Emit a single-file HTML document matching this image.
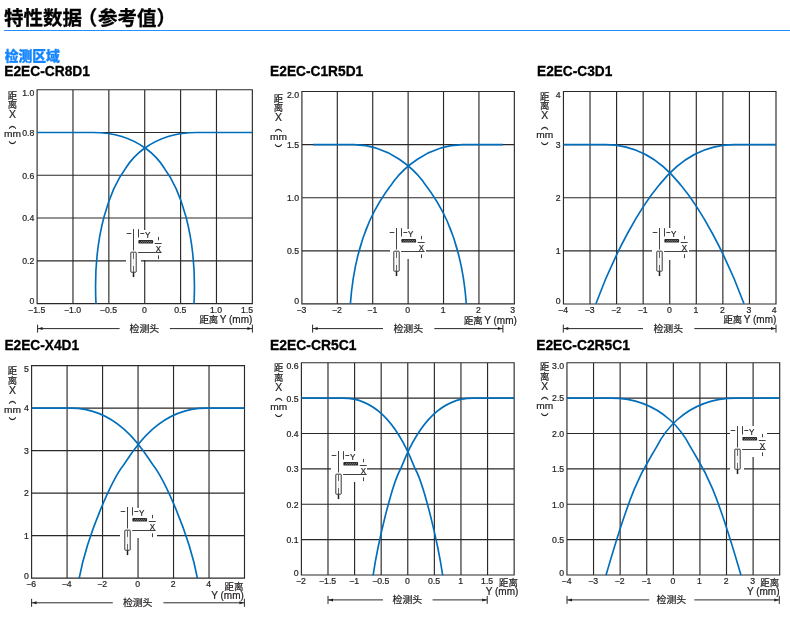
<!DOCTYPE html>
<html lang="zh-CN"><head><meta charset="utf-8"><title>特性数据（参考值）</title>
<style>html,body{margin:0;padding:0;background:#fff}svg{display:block;will-change:transform}text{font-family:"Liberation Sans","Noto Sans CJK SC",sans-serif;stroke:#231f20;stroke-width:.22px}</style></head><body>
<svg width="790" height="617" viewBox="0 0 790 617" fill="#231f20">
<rect width="790" height="617" fill="#fff"/>
<text x="4" y="25" font-size="19.5" font-weight="bold" fill="#000" style="stroke:#000;stroke-width:.3px">特性数据<tspan dx="-4.2">（</tspan><tspan dx="0.7">参考值）</tspan></text>
<rect x="4" y="30" width="786" height="1" fill="#1e90ff"/>
<text x="4.7" y="61.4" font-size="13.8" font-weight="900" fill="#1585ff" style="stroke:#1585ff;stroke-width:.3px">检测区域</text>
<!-- chart 1 -->
<text x="4.2" y="75.8" font-size="14" font-weight="bold" fill="#000" textLength="85.8" lengthAdjust="spacingAndGlyphs" style="stroke:#000;stroke-width:.3px">E2EC-CR8D1</text>
<path d="M37.1 89.15V304.15M72.97 89.15V304.15M108.85 89.15V304.15M144.72 89.15V230M144.72 260V304.15M180.6 89.15V304.15M216.47 89.15V304.15M252.35 89.15V304.15M36.55 89.7H252.9M36.55 132.48H252.9M36.55 175.26H252.9M36.55 218.04H252.9M36.55 260.82H126M141 260.82H252.9M36.55 303.6H252.9" stroke="#2c2829" stroke-width="1.15" fill="none"/>
<path d="M37.1 132.48H93.36C144.41 132.48 163.39 166.97 164.3 168.18C178.25 186.68 197.63 232.21 194 303.68M252.35 132.48H196.64C145.59 132.48 126.61 166.97 125.7 168.18C111.75 186.68 92.37 232.21 96 303.68" stroke="#006ebb" stroke-width="1.65" fill="none" stroke-linejoin="round"/>
<text x="34.3" y="304.1" font-size="8.7" text-anchor="end">0</text>
<text x="34.3" y="264.22" font-size="8.7" text-anchor="end">0.2</text>
<text x="34.3" y="221.44" font-size="8.7" text-anchor="end">0.4</text>
<text x="34.3" y="178.66" font-size="8.7" text-anchor="end">0.6</text>
<text x="34.3" y="135.88" font-size="8.7" text-anchor="end">0.8</text>
<text x="34.3" y="96.1" font-size="8.7" text-anchor="end">1.0</text>
<text x="36.7" y="312.5" font-size="8.7" text-anchor="middle">−1.5</text>
<text x="72.57" y="312.5" font-size="8.7" text-anchor="middle">−1.0</text>
<text x="108.45" y="312.5" font-size="8.7" text-anchor="middle">−0.5</text>
<text x="144.32" y="312.5" font-size="8.7" text-anchor="middle">0</text>
<text x="180.2" y="312.5" font-size="8.7" text-anchor="middle">0.5</text>
<text x="216.07" y="312.5" font-size="8.7" text-anchor="middle">1.0</text>
<text x="253.05" y="312.5" font-size="8.7" text-anchor="end">1.5</text>
<text x="12.5" y="98.8" font-size="9.4" text-anchor="middle">距</text>
<text x="12.5" y="108.4" font-size="9.4" text-anchor="middle">离</text>
<text transform="translate(12.5 118.3) scale(1.02 1)" font-size="10.2" text-anchor="middle">X</text>
<text transform="translate(12.5 127.7) scale(0.9 1.5)" font-size="8.2" text-anchor="middle">︵</text>
<text transform="translate(12.5 137.2) scale(1.05 1)" font-size="9.7" text-anchor="middle">mm</text>
<text transform="translate(12.5 152.4) scale(0.9 1.5)" font-size="8.2" text-anchor="middle">︶</text>
<text x="199.4" y="323.2" font-size="9.4" textLength="18.9" lengthAdjust="spacingAndGlyphs">距离</text>
<text x="252.3" y="323.2" font-size="10" text-anchor="end">Y (mm)</text>
<path d="M37.6 324.6V332.6M252.4 324.6V332.6M37.6 328.6H119.6M169.9 328.6H252.4" stroke="#2c2829" stroke-width="1" fill="none"/>
<path d="M38 328.6l4.6-1.5v3zM252 328.6l-4.6-1.5v3z" fill="#231f20"/>
<text x="144.35" y="332.1" font-size="9.6" text-anchor="middle" textLength="29.6" lengthAdjust="spacingAndGlyphs">检测头</text>
<g transform="translate(133.5,252.5)" stroke="#231f20" stroke-width="0.85" fill="none">
<path d="M-6.8-19H-2.2M0-23.5V-2M5-23.3V-15M6.8-19H10.8"/>
<path d="M25-15.6V-12.2M25 2.8V6.6M21.2-9H28.2M4.6 0H28.2"/>
<rect x="4.9" y="-12.6" width="14.7" height="3.7" rx="0.9" fill="#262626" stroke="none"/>
<path d="M6.9-9.8l1.5-1.9M8.9-9.8l1.5-1.9M10.9-9.8l1.5-1.9M12.9-9.8l1.5-1.9M14.9-9.8l1.5-1.9M16.9-9.8l1.5-1.9" stroke="#cfcfcf" stroke-width="0.55"/>
<rect x="-2.7" y="-0.3" width="5.4" height="20" rx="0.5" fill="#fff" stroke-width="0.9"/>
<path d="M0 0.4V19.4" stroke-width="0.9" stroke="#555" stroke-dasharray="6 7 6"/>
<path d="M0 6.8V13" stroke-width="0.6" stroke="#bbb" stroke-dasharray="1 0.8"/>
<path d="M0 19.8V24.6" stroke-width="1.5"/>
</g>
<text transform="translate(145 238.2) scale(0.95 1)" font-size="8.5">Y</text>
<text transform="translate(155.7 251.8) scale(0.88 1)" font-size="9">X</text>
<!-- chart 2 -->
<text x="270.1" y="75.8" font-size="14" font-weight="bold" fill="#000" textLength="93.1" lengthAdjust="spacingAndGlyphs" style="stroke:#000;stroke-width:.3px">E2EC-C1R5D1</text>
<path d="M301.9 90.95V304.45M337.31 90.95V304.45M372.72 90.95V304.45M408.12 90.95V229M408.12 259V304.45M443.53 90.95V304.45M478.94 90.95V304.45M514.35 90.95V304.45M301.35 91.5H514.9M301.35 144.6H514.9M301.35 197.7H514.9M301.35 250.8H390M426 250.8H514.9M301.35 303.9H514.9" stroke="#2c2829" stroke-width="1.15" fill="none"/>
<path d="M313 144.6H354.08C390.23 144.6 415.66 171.62 422.35 180.6C430.44 191.46 460.61 225.39 466.3 303.7M503 144.6H462.62C426.47 144.6 401.04 171.62 394.35 180.6C386.26 191.46 356.09 225.39 350.4 303.7" stroke="#006ebb" stroke-width="1.65" fill="none" stroke-linejoin="round"/>
<text x="299.1" y="304.4" font-size="8.7" text-anchor="end">0</text>
<text x="299.1" y="254.2" font-size="8.7" text-anchor="end">0.5</text>
<text x="299.1" y="201.1" font-size="8.7" text-anchor="end">1.0</text>
<text x="299.1" y="148" font-size="8.7" text-anchor="end">1.5</text>
<text x="299.1" y="97.7" font-size="8.7" text-anchor="end">2.0</text>
<text x="301.5" y="312.8" font-size="8.7" text-anchor="middle">−3</text>
<text x="336.91" y="312.8" font-size="8.7" text-anchor="middle">−2</text>
<text x="372.32" y="312.8" font-size="8.7" text-anchor="middle">−1</text>
<text x="407.73" y="312.8" font-size="8.7" text-anchor="middle">0</text>
<text x="443.13" y="312.8" font-size="8.7" text-anchor="middle">1</text>
<text x="478.54" y="312.8" font-size="8.7" text-anchor="middle">2</text>
<text x="515.05" y="312.8" font-size="8.7" text-anchor="end">3</text>
<text x="278.4" y="101.6" font-size="9.4" text-anchor="middle">距</text>
<text x="278.4" y="111.2" font-size="9.4" text-anchor="middle">离</text>
<text transform="translate(278.4 121.1) scale(1.02 1)" font-size="10.2" text-anchor="middle">X</text>
<text transform="translate(278.4 130.5) scale(0.9 1.5)" font-size="8.2" text-anchor="middle">︵</text>
<text transform="translate(278.4 140) scale(1.05 1)" font-size="9.7" text-anchor="middle">mm</text>
<text transform="translate(278.4 155.2) scale(0.9 1.5)" font-size="8.2" text-anchor="middle">︶</text>
<text x="463.9" y="323.5" font-size="9.4" textLength="18.9" lengthAdjust="spacingAndGlyphs">距离</text>
<text x="516.8" y="323.5" font-size="10" text-anchor="end">Y (mm)</text>
<path d="M312.6 324.6V332.6M502.9 324.6V332.6M312.6 328.6H383M434.3 328.6H502.9" stroke="#2c2829" stroke-width="1" fill="none"/>
<path d="M313 328.6l4.6-1.5v3zM502.5 328.6l-4.6-1.5v3z" fill="#231f20"/>
<text x="408.25" y="332.1" font-size="9.6" text-anchor="middle" textLength="29.6" lengthAdjust="spacingAndGlyphs">检测头</text>
<g transform="translate(396.5,251.5)" stroke="#231f20" stroke-width="0.85" fill="none">
<path d="M-6.8-19H-2.2M0-23.5V-2M5-23.3V-15M6.8-19H10.8"/>
<path d="M25-15.6V-12.2M25 2.8V6.6M21.2-9H28.2M4.6 0H28.2"/>
<rect x="4.9" y="-12.6" width="14.7" height="3.7" rx="0.9" fill="#262626" stroke="none"/>
<path d="M6.9-9.8l1.5-1.9M8.9-9.8l1.5-1.9M10.9-9.8l1.5-1.9M12.9-9.8l1.5-1.9M14.9-9.8l1.5-1.9M16.9-9.8l1.5-1.9" stroke="#cfcfcf" stroke-width="0.55"/>
<rect x="-2.7" y="-0.3" width="5.4" height="20" rx="0.5" fill="#fff" stroke-width="0.9"/>
<path d="M0 0.4V19.4" stroke-width="0.9" stroke="#555" stroke-dasharray="6 7 6"/>
<path d="M0 6.8V13" stroke-width="0.6" stroke="#bbb" stroke-dasharray="1 0.8"/>
<path d="M0 19.8V24.6" stroke-width="1.5"/>
</g>
<text transform="translate(408 237.2) scale(0.95 1)" font-size="8.5">Y</text>
<text transform="translate(418.7 250.8) scale(0.88 1)" font-size="9">X</text>
<!-- chart 3 -->
<text x="537" y="75.8" font-size="14" font-weight="bold" fill="#000" textLength="75.3" lengthAdjust="spacingAndGlyphs" style="stroke:#000;stroke-width:.3px">E2EC-C3D1</text>
<path d="M563.45 90.95V304.5M590.02 90.95V304.5M616.59 90.95V304.5M643.16 90.95V304.5M669.73 90.95V228M669.73 260V304.5M696.29 90.95V304.5M722.86 90.95V304.5M749.43 90.95V304.5M776 90.95V304.5M562.9 91.5H776.55M562.9 144.61H776.55M562.9 197.72H776.55M562.9 250.84H652M689 250.84H776.55M562.9 303.95H776.55" stroke="#2c2829" stroke-width="1.15" fill="none"/>
<path d="M563.45 144.61H605.3C651.18 144.61 676.09 179.51 680.95 185.31C699.78 207.74 725.02 251.89 744 303.81M776 144.61H734.6C688.72 144.61 663.81 179.51 658.95 185.31C640.12 207.74 614.88 251.89 595.9 303.81" stroke="#006ebb" stroke-width="1.65" fill="none" stroke-linejoin="round"/>
<text x="560.65" y="304.45" font-size="8.7" text-anchor="end">0</text>
<text x="560.65" y="254.24" font-size="8.7" text-anchor="end">1</text>
<text x="560.65" y="201.12" font-size="8.7" text-anchor="end">2</text>
<text x="560.65" y="148.01" font-size="8.7" text-anchor="end">3</text>
<text x="560.65" y="97.5" font-size="8.7" text-anchor="end">4</text>
<text x="563.05" y="312.85" font-size="8.7" text-anchor="middle">−4</text>
<text x="589.62" y="312.85" font-size="8.7" text-anchor="middle">−3</text>
<text x="616.19" y="312.85" font-size="8.7" text-anchor="middle">−2</text>
<text x="642.76" y="312.85" font-size="8.7" text-anchor="middle">−1</text>
<text x="669.33" y="312.85" font-size="8.7" text-anchor="middle">0</text>
<text x="695.89" y="312.85" font-size="8.7" text-anchor="middle">1</text>
<text x="722.46" y="312.85" font-size="8.7" text-anchor="middle">2</text>
<text x="749.03" y="312.85" font-size="8.7" text-anchor="middle">3</text>
<text x="776.7" y="312.85" font-size="8.7" text-anchor="end">4</text>
<text x="544.8" y="99.6" font-size="9.4" text-anchor="middle">距</text>
<text x="544.8" y="109.2" font-size="9.4" text-anchor="middle">离</text>
<text transform="translate(544.8 119.1) scale(1.02 1)" font-size="10.2" text-anchor="middle">X</text>
<text transform="translate(544.8 128.5) scale(0.9 1.5)" font-size="8.2" text-anchor="middle">︵</text>
<text transform="translate(544.8 138) scale(1.05 1)" font-size="9.7" text-anchor="middle">mm</text>
<text transform="translate(544.8 153.2) scale(0.9 1.5)" font-size="8.2" text-anchor="middle">︶</text>
<text x="723.4" y="323.2" font-size="9.4" textLength="18.9" lengthAdjust="spacingAndGlyphs">距离</text>
<text x="776.3" y="323.2" font-size="10" text-anchor="end">Y (mm)</text>
<path d="M563.3 324.6V332.6M776 324.6V332.6M563.3 328.6H643M694.3 328.6H776" stroke="#2c2829" stroke-width="1" fill="none"/>
<path d="M563.7 328.6l4.6-1.5v3zM775.6 328.6l-4.6-1.5v3z" fill="#231f20"/>
<text x="668.25" y="332.1" font-size="9.6" text-anchor="middle" textLength="29.6" lengthAdjust="spacingAndGlyphs">检测头</text>
<g transform="translate(659.5,251.5)" stroke="#231f20" stroke-width="0.85" fill="none">
<path d="M-6.8-19H-2.2M0-23.5V-2M5-23.3V-15M6.8-19H10.8"/>
<path d="M25-15.6V-12.2M25 2.8V6.6M21.2-9H28.2M4.6 0H28.2"/>
<rect x="4.9" y="-12.6" width="14.7" height="3.7" rx="0.9" fill="#262626" stroke="none"/>
<path d="M6.9-9.8l1.5-1.9M8.9-9.8l1.5-1.9M10.9-9.8l1.5-1.9M12.9-9.8l1.5-1.9M14.9-9.8l1.5-1.9M16.9-9.8l1.5-1.9" stroke="#cfcfcf" stroke-width="0.55"/>
<rect x="-2.7" y="-0.3" width="5.4" height="20" rx="0.5" fill="#fff" stroke-width="0.9"/>
<path d="M0 0.4V19.4" stroke-width="0.9" stroke="#555" stroke-dasharray="6 7 6"/>
<path d="M0 6.8V13" stroke-width="0.6" stroke="#bbb" stroke-dasharray="1 0.8"/>
<path d="M0 19.8V24.6" stroke-width="1.5"/>
</g>
<text transform="translate(671 237.2) scale(0.95 1)" font-size="8.5">Y</text>
<text transform="translate(681.7 250.8) scale(0.88 1)" font-size="9">X</text>
<!-- chart 4 -->
<text x="4.4" y="349.6" font-size="14" font-weight="bold" fill="#000" textLength="74.7" lengthAdjust="spacingAndGlyphs" style="stroke:#000;stroke-width:.3px">E2EC-X4D1</text>
<path d="M31.6 365.05V578.6M67.08 365.05V578.6M102.57 365.05V578.6M138.05 365.05V508M138.05 538V578.6M173.53 365.05V578.6M209.02 365.05V578.6M244.5 365.05V578.6M31.05 365.6H245.05M31.05 408.09H245.05M31.05 450.58H245.05M31.05 493.07H245.05M31.05 535.56H120M157 535.56H245.05M31.05 578.05H245.05" stroke="#2c2829" stroke-width="1.15" fill="none"/>
<path d="M31.6 408.09H70.74C122.48 408.09 147.59 458.26 153.2 465.29C163.75 478.51 188.7 532.15 197.4 578.09M244.5 408.09H205.86C154.12 408.09 129.01 458.26 123.4 465.29C112.85 478.51 87.9 532.15 79.2 578.09" stroke="#006ebb" stroke-width="1.65" fill="none" stroke-linejoin="round"/>
<text x="28.8" y="578.55" font-size="8.7" text-anchor="end">0</text>
<text x="28.8" y="538.96" font-size="8.7" text-anchor="end">1</text>
<text x="28.8" y="496.47" font-size="8.7" text-anchor="end">2</text>
<text x="28.8" y="453.98" font-size="8.7" text-anchor="end">3</text>
<text x="28.8" y="411.49" font-size="8.7" text-anchor="end">4</text>
<text x="28.8" y="372" font-size="8.7" text-anchor="end">5</text>
<text x="31.2" y="586.95" font-size="8.7" text-anchor="middle">−6</text>
<text x="66.68" y="586.95" font-size="8.7" text-anchor="middle">−4</text>
<text x="102.17" y="586.95" font-size="8.7" text-anchor="middle">−2</text>
<text x="137.65" y="586.95" font-size="8.7" text-anchor="middle">0</text>
<text x="173.13" y="586.95" font-size="8.7" text-anchor="middle">2</text>
<text x="208.62" y="586.95" font-size="8.7" text-anchor="middle">4</text>
<text x="12.4" y="374.2" font-size="9.4" text-anchor="middle">距</text>
<text x="12.4" y="383.8" font-size="9.4" text-anchor="middle">离</text>
<text transform="translate(12.4 393.7) scale(1.02 1)" font-size="10.2" text-anchor="middle">X</text>
<text transform="translate(12.4 403.1) scale(0.9 1.5)" font-size="8.2" text-anchor="middle">︵</text>
<text transform="translate(12.4 412.6) scale(1.05 1)" font-size="9.7" text-anchor="middle">mm</text>
<text transform="translate(12.4 427.8) scale(0.9 1.5)" font-size="8.2" text-anchor="middle">︶</text>
<text x="224.5" y="589.7" font-size="9.4" textLength="18.9" lengthAdjust="spacingAndGlyphs">距离</text>
<text x="243.8" y="598.6" font-size="10" text-anchor="end">Y (mm)</text>
<path d="M31.6 598.8V606.8M244.4 598.8V606.8M31.6 602.8H112.8M163.4 602.8H244.4" stroke="#2c2829" stroke-width="1" fill="none"/>
<path d="M32 602.8l4.6-1.5v3zM244 602.8l-4.6-1.5v3z" fill="#231f20"/>
<text x="137.7" y="606.3" font-size="9.6" text-anchor="middle" textLength="29.6" lengthAdjust="spacingAndGlyphs">检测头</text>
<g transform="translate(127.5,530.5)" stroke="#231f20" stroke-width="0.85" fill="none">
<path d="M-6.8-19H-2.2M0-23.5V-2M5-23.3V-15M6.8-19H10.8"/>
<path d="M25-15.6V-12.2M25 2.8V6.6M21.2-9H28.2M4.6 0H28.2"/>
<rect x="4.9" y="-12.6" width="14.7" height="3.7" rx="0.9" fill="#262626" stroke="none"/>
<path d="M6.9-9.8l1.5-1.9M8.9-9.8l1.5-1.9M10.9-9.8l1.5-1.9M12.9-9.8l1.5-1.9M14.9-9.8l1.5-1.9M16.9-9.8l1.5-1.9" stroke="#cfcfcf" stroke-width="0.55"/>
<rect x="-2.7" y="-0.3" width="5.4" height="20" rx="0.5" fill="#fff" stroke-width="0.9"/>
<path d="M0 0.4V19.4" stroke-width="0.9" stroke="#555" stroke-dasharray="6 7 6"/>
<path d="M0 6.8V13" stroke-width="0.6" stroke="#bbb" stroke-dasharray="1 0.8"/>
<path d="M0 19.8V24.6" stroke-width="1.5"/>
</g>
<text transform="translate(139 516.2) scale(0.95 1)" font-size="8.5">Y</text>
<text transform="translate(149.7 529.8) scale(0.88 1)" font-size="9">X</text>
<!-- chart 5 -->
<text x="270" y="349.6" font-size="14" font-weight="bold" fill="#000" textLength="86.4" lengthAdjust="spacingAndGlyphs" style="stroke:#000;stroke-width:.3px">E2EC-CR5C1</text>
<path d="M301.4 362.2V575.55M327.99 362.2V575.55M354.59 362.2V451M354.59 482V575.55M381.18 362.2V575.55M407.77 362.2V575.55M434.37 362.2V575.55M460.96 362.2V575.55M487.56 362.2V575.55M514.15 362.2V575.55M300.85 362.75H514.7M300.85 398.12H514.7M300.85 433.5H514.7M300.85 468.88H331M367 468.88H514.7M300.85 504.25H514.7M300.85 539.62H514.7M300.85 575H514.7" stroke="#2c2829" stroke-width="1.15" fill="none"/>
<path d="M301.4 398.12H343.2C392.75 398.12 412.41 464.07 415.1 468.73C423.85 483.81 437.82 542.35 442.7 575.38M514.15 398.12H472.6C423.05 398.12 403.39 464.07 400.7 468.73C391.95 483.81 377.98 542.35 373.1 575.38" stroke="#006ebb" stroke-width="1.65" fill="none" stroke-linejoin="round"/>
<text x="298.6" y="575.5" font-size="8.7" text-anchor="end">0</text>
<text x="298.6" y="543.02" font-size="8.7" text-anchor="end">0.1</text>
<text x="298.6" y="507.65" font-size="8.7" text-anchor="end">0.2</text>
<text x="298.6" y="472.27" font-size="8.7" text-anchor="end">0.3</text>
<text x="298.6" y="436.9" font-size="8.7" text-anchor="end">0.4</text>
<text x="298.6" y="401.52" font-size="8.7" text-anchor="end">0.5</text>
<text x="298.6" y="368.75" font-size="8.7" text-anchor="end">0.6</text>
<text x="301" y="583.9" font-size="8.7" text-anchor="middle">−2</text>
<text x="327.59" y="583.9" font-size="8.7" text-anchor="middle">−1.5</text>
<text x="354.19" y="583.9" font-size="8.7" text-anchor="middle">−1</text>
<text x="380.78" y="583.9" font-size="8.7" text-anchor="middle">−0.5</text>
<text x="407.38" y="583.9" font-size="8.7" text-anchor="middle">0</text>
<text x="433.97" y="583.9" font-size="8.7" text-anchor="middle">0.5</text>
<text x="460.56" y="583.9" font-size="8.7" text-anchor="middle">1</text>
<text x="487.16" y="583.9" font-size="8.7" text-anchor="middle">1.5</text>
<text x="278.7" y="371.25" font-size="9.4" text-anchor="middle">距</text>
<text x="278.7" y="380.85" font-size="9.4" text-anchor="middle">离</text>
<text transform="translate(278.7 390.75) scale(1.02 1)" font-size="10.2" text-anchor="middle">X</text>
<text transform="translate(278.7 400.15) scale(0.9 1.5)" font-size="8.2" text-anchor="middle">︵</text>
<text transform="translate(278.7 409.65) scale(1.05 1)" font-size="9.7" text-anchor="middle">mm</text>
<text transform="translate(278.7 424.85) scale(0.9 1.5)" font-size="8.2" text-anchor="middle">︶</text>
<text x="499" y="585.8" font-size="9.4" textLength="18.9" lengthAdjust="spacingAndGlyphs">距离</text>
<text x="518.3" y="594.7" font-size="10" text-anchor="end">Y (mm)</text>
<path d="M328 595.9V603.9M487.2 595.9V603.9M328 599.9H383M432.6 599.9H487.2" stroke="#2c2829" stroke-width="1" fill="none"/>
<path d="M328.4 599.9l4.6-1.5v3zM486.8 599.9l-4.6-1.5v3z" fill="#231f20"/>
<text x="407.4" y="603.4" font-size="9.6" text-anchor="middle" textLength="29.6" lengthAdjust="spacingAndGlyphs">检测头</text>
<g transform="translate(338.5,474.5)" stroke="#231f20" stroke-width="0.85" fill="none">
<path d="M-6.8-19H-2.2M0-23.5V-2M5-23.3V-15M6.8-19H10.8"/>
<path d="M25-15.6V-12.2M25 2.8V6.6M21.2-9H28.2M4.6 0H28.2"/>
<rect x="4.9" y="-12.6" width="14.7" height="3.7" rx="0.9" fill="#262626" stroke="none"/>
<path d="M6.9-9.8l1.5-1.9M8.9-9.8l1.5-1.9M10.9-9.8l1.5-1.9M12.9-9.8l1.5-1.9M14.9-9.8l1.5-1.9M16.9-9.8l1.5-1.9" stroke="#cfcfcf" stroke-width="0.55"/>
<rect x="-2.7" y="-0.3" width="5.4" height="20" rx="0.5" fill="#fff" stroke-width="0.9"/>
<path d="M0 0.4V19.4" stroke-width="0.9" stroke="#555" stroke-dasharray="6 7 6"/>
<path d="M0 6.8V13" stroke-width="0.6" stroke="#bbb" stroke-dasharray="1 0.8"/>
<path d="M0 19.8V24.6" stroke-width="1.5"/>
</g>
<text transform="translate(350 460.2) scale(0.95 1)" font-size="8.5">Y</text>
<text transform="translate(360.7 473.8) scale(0.88 1)" font-size="9">X</text>
<!-- chart 6 -->
<text x="536.2" y="349.6" font-size="14" font-weight="bold" fill="#000" textLength="93.8" lengthAdjust="spacingAndGlyphs" style="stroke:#000;stroke-width:.3px">E2EC-C2R5C1</text>
<path d="M566.95 362.15V575.55M593.54 362.15V575.55M620.14 362.15V575.55M646.73 362.15V575.55M673.33 362.15V575.55M699.92 362.15V575.55M726.51 362.15V575.55M753.11 362.15V426M753.11 457V575.55M779.7 362.15V575.55M566.4 362.7H780.25M566.4 398.08H780.25M566.4 433.47H730M767 433.47H780.25M566.4 468.85H730M744 468.85H780.25M566.4 504.23H780.25M566.4 539.62H780.25M566.4 575H780.25" stroke="#2c2829" stroke-width="1.15" fill="none"/>
<path d="M566.95 398.08H610.91C668.88 398.08 689.1 444.66 690.7 447.43C702.57 468.03 712.41 476.04 741 575.33M779.7 398.08H736.09C678.12 398.08 657.9 444.66 656.3 447.43C644.43 468.03 634.59 476.04 606 575.33" stroke="#006ebb" stroke-width="1.65" fill="none" stroke-linejoin="round"/>
<text x="564.15" y="575.5" font-size="8.7" text-anchor="end">0</text>
<text x="564.15" y="543.02" font-size="8.7" text-anchor="end">0.5</text>
<text x="564.15" y="507.63" font-size="8.7" text-anchor="end">1.0</text>
<text x="564.15" y="472.25" font-size="8.7" text-anchor="end">1.5</text>
<text x="564.15" y="436.87" font-size="8.7" text-anchor="end">2.0</text>
<text x="564.15" y="401.48" font-size="8.7" text-anchor="end">2.5</text>
<text x="564.15" y="369.1" font-size="8.7" text-anchor="end">3.0</text>
<text x="566.55" y="583.9" font-size="8.7" text-anchor="middle">−4</text>
<text x="593.14" y="583.9" font-size="8.7" text-anchor="middle">−3</text>
<text x="619.74" y="583.9" font-size="8.7" text-anchor="middle">−2</text>
<text x="646.33" y="583.9" font-size="8.7" text-anchor="middle">−1</text>
<text x="672.93" y="583.9" font-size="8.7" text-anchor="middle">0</text>
<text x="699.52" y="583.9" font-size="8.7" text-anchor="middle">1</text>
<text x="726.11" y="583.9" font-size="8.7" text-anchor="middle">2</text>
<text x="752.71" y="583.9" font-size="8.7" text-anchor="middle">3</text>
<text x="544.8" y="370.3" font-size="9.4" text-anchor="middle">距</text>
<text x="544.8" y="379.9" font-size="9.4" text-anchor="middle">离</text>
<text transform="translate(544.8 389.8) scale(1.02 1)" font-size="10.2" text-anchor="middle">X</text>
<text transform="translate(544.8 399.2) scale(0.9 1.5)" font-size="8.2" text-anchor="middle">︵</text>
<text transform="translate(544.8 408.7) scale(1.05 1)" font-size="9.7" text-anchor="middle">mm</text>
<text transform="translate(544.8 423.9) scale(0.9 1.5)" font-size="8.2" text-anchor="middle">︶</text>
<text x="760.2" y="585.8" font-size="9.4" textLength="18.9" lengthAdjust="spacingAndGlyphs">距离</text>
<text x="779.5" y="594.7" font-size="10" text-anchor="end">Y (mm)</text>
<path d="M567 595.9V603.9M779.3 595.9V603.9M567 599.9H649.2M694.3 599.9H779.3" stroke="#2c2829" stroke-width="1" fill="none"/>
<path d="M567.4 599.9l4.6-1.5v3zM778.9 599.9l-4.6-1.5v3z" fill="#231f20"/>
<text x="671.35" y="603.4" font-size="9.6" text-anchor="middle" textLength="29.6" lengthAdjust="spacingAndGlyphs">检测头</text>
<g transform="translate(737.5,449.5)" stroke="#231f20" stroke-width="0.85" fill="none">
<path d="M-6.8-19H-2.2M0-23.5V-2M5-23.3V-15M6.8-19H10.8"/>
<path d="M25-15.6V-12.2M25 2.8V6.6M21.2-9H28.2M4.6 0H28.2"/>
<rect x="4.9" y="-12.6" width="14.7" height="3.7" rx="0.9" fill="#262626" stroke="none"/>
<path d="M6.9-9.8l1.5-1.9M8.9-9.8l1.5-1.9M10.9-9.8l1.5-1.9M12.9-9.8l1.5-1.9M14.9-9.8l1.5-1.9M16.9-9.8l1.5-1.9" stroke="#cfcfcf" stroke-width="0.55"/>
<rect x="-2.7" y="-0.3" width="5.4" height="20" rx="0.5" fill="#fff" stroke-width="0.9"/>
<path d="M0 0.4V19.4" stroke-width="0.9" stroke="#555" stroke-dasharray="6 7 6"/>
<path d="M0 6.8V13" stroke-width="0.6" stroke="#bbb" stroke-dasharray="1 0.8"/>
<path d="M0 19.8V24.6" stroke-width="1.5"/>
</g>
<text transform="translate(749 435.2) scale(0.95 1)" font-size="8.5">Y</text>
<text transform="translate(759.7 448.8) scale(0.88 1)" font-size="9">X</text>
</svg></body></html>
